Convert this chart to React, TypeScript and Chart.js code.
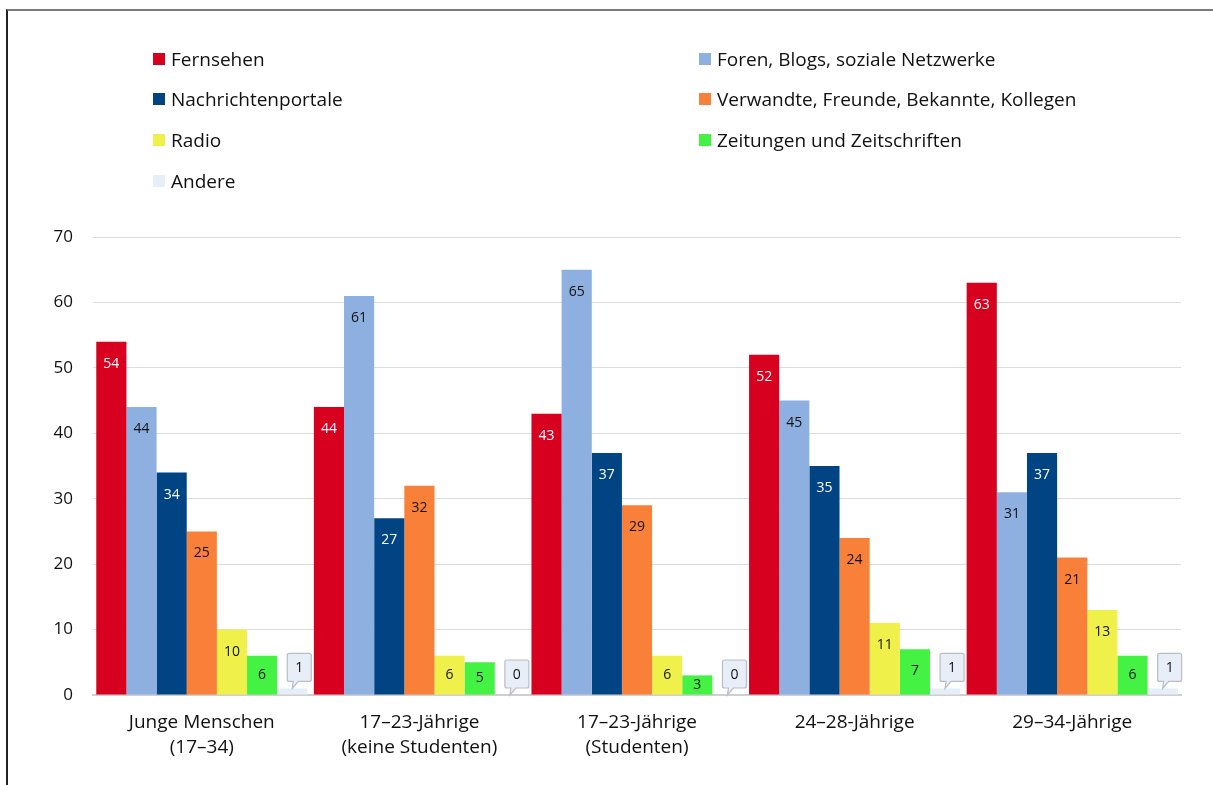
import React, { useEffect, useRef } from "react";
import { Chart, registerables } from "chart.js";

Chart.register(...registerables);

const categories: string[][] = [
  ["Junge Menschen", "(17–34)"],
  ["17–23-Jährige", "(keine Studenten)"],
  ["17–23-Jährige", "(Studenten)"],
  ["24–28-Jährige"],
  ["29–34-Jährige"],
];

const seriesNames = [
  "Fernsehen",
  "Foren, Blogs, soziale Netzwerke",
  "Nachrichtenportale",
  "Verwandte, Freunde, Bekannte, Kollegen",
  "Radio",
  "Zeitungen und Zeitschriften",
  "Andere",
];

const fernsehen = [54, 44, 43, 52, 63];
const foren = [44, 61, 65, 45, 31];
const nachrichten = [34, 27, 37, 35, 37];
const verwandte = [25, 32, 29, 24, 21];
const radio = [10, 6, 6, 11, 13];
const zeitungen = [6, 5, 3, 7, 6];
const andere = [1, 0, 0, 1, 1];

const seriesValues = [fernsehen, foren, nachrichten, verwandte, radio, zeitungen, andere];
const seriesColors = ["#D7001F", "#8DB0E0", "#004483", "#F98039", "#F0F04A", "#44F244", "#E6EEF8"];
const labelColors = ["#ffffff", "#111111", "#ffffff", "#111111", "#111111", "#111111", "#111111"];

const yTicks = [0, 10, 20, 30, 40, 50, 60, 70];

const FONT = "'Open Sans', 'Noto Sans', sans-serif";

const valueLabelPlugin = {
  id: "valueLabels",
  afterDatasetsDraw(chart: any) {
    const ctx = chart.ctx;
    ctx.save();
    ctx.font = `14px ${FONT}`;
    ctx.textAlign = "center";
    ctx.textBaseline = "middle";
    chart.data.datasets.forEach((ds: any, di: number) => {
      const meta = chart.getDatasetMeta(di);
      meta.data.forEach((bar: any, i: number) => {
        const v = ds.data[i];
        const top = bar.y;
        const base = bar.base;
        if (di === seriesNames.length - 1) {
          const cx = bar.x;
          const bw = 24;
          const bh = 28;
          const bx = cx + 7 - bw / 2;
          const byBottom = top - 7;
          const by = byBottom - bh;
          ctx.beginPath();
          ctx.moveTo(bx + 2, by);
          ctx.lineTo(bx + bw - 2, by);
          ctx.quadraticCurveTo(bx + bw, by, bx + bw, by + 2);
          ctx.lineTo(bx + bw, byBottom - 2);
          ctx.quadraticCurveTo(bx + bw, byBottom, bx + bw - 2, byBottom);
          ctx.lineTo(cx + 6, byBottom);
          ctx.lineTo(cx, top);
          ctx.lineTo(cx + 1, byBottom);
          ctx.lineTo(bx + 2, byBottom);
          ctx.quadraticCurveTo(bx, byBottom, bx, byBottom - 2);
          ctx.lineTo(bx, by + 2);
          ctx.quadraticCurveTo(bx, by, bx + 2, by);
          ctx.closePath();
          ctx.fillStyle = "#E8EEF8";
          ctx.fill();
          ctx.strokeStyle = "#B9BDC4";
          ctx.lineWidth = 1.2;
          ctx.stroke();
          ctx.fillStyle = "#111111";
          ctx.fillText(String(v), bx + bw / 2, by + bh / 2 + 1);
        } else {
          const y = Math.min(top + 22, (top + base) / 2);
          ctx.fillStyle = labelColors[di];
          ctx.fillText(String(v), bar.x, y);
        }
      });
    });
    ctx.restore();
  },
};

const legendPlugin = {
  id: "gridLegend",
  afterDraw(chart: any) {
    const ctx = chart.ctx;
    const colX = [153, 699];
    const rowY = [59, 99, 140, 181];
    ctx.save();
    ctx.font = `19px ${FONT}`;
    ctx.textBaseline = "middle";
    ctx.textAlign = "left";
    seriesNames.forEach((name, i) => {
      const x = colX[i % 2];
      const y = rowY[Math.floor(i / 2)];
      ctx.fillStyle = seriesColors[i];
      ctx.fillRect(x, y - 6, 12, 12);
      ctx.fillStyle = "#111111";
      ctx.fillText(name, x + 18, y + 1.5);
    });
    ctx.restore();
  },
};

export default function App() {
  const canvasRef = useRef<HTMLCanvasElement | null>(null);

  useEffect(() => {
    if (!canvasRef.current) return;
    const chart = new Chart(canvasRef.current, {
      type: "bar",
      data: {
        labels: categories,
        datasets: seriesNames.map((name, i) => ({
          label: name,
          data: seriesValues[i],
          backgroundColor: seriesColors[i],
          borderWidth: 0,
          barPercentage: 1.0,
          categoryPercentage: 0.97,
        })),
      },
      options: {
        animation: false,
        responsive: false,
        devicePixelRatio: 1,
        layout: { padding: { left: 0, right: 32, top: 237, bottom: 0 } },
        plugins: {
          legend: { display: false },
          tooltip: { enabled: false },
        },
        scales: {
          x: {
            grid: { display: false, drawTicks: false },
            border: { display: true, color: "#CFCFCF", width: 2 },
            ticks: {
              color: "#111111",
              font: { family: FONT, size: 19, lineHeight: 1.27 },
              padding: 16,
              maxRotation: 0,
              autoSkip: false,
            },
            afterFit(scale: any) {
              scale.height = 90;
            },
          },
          y: {
            min: 0,
            max: 70,
            afterBuildTicks(scale: any) {
              scale.ticks = yTicks.map((v) => ({ value: v }));
            },
            grid: { color: "#DCDCDC", lineWidth: 1, drawTicks: false },
            border: { display: false },
            ticks: {
              color: "#111111",
              font: { family: FONT, size: 17 },
              padding: 20,
            },
            afterFit(scale: any) {
              scale.width = 93;
            },
          },
        },
      },
      plugins: [valueLabelPlugin, legendPlugin],
    });
    return () => chart.destroy();
  }, []);

  return (
    <div>
      <div
        style={{
          position: "fixed",
          left: 6,
          top: 9,
          right: 0,
          bottom: 0,
          borderTop: "2px solid #7A7A7A",
          borderLeft: "2px solid #222222",
        }}
      />
      <canvas
        ref={canvasRef}
        width={1213}
        height={785}
        style={{ position: "fixed", left: 0, top: 0, width: 1213, height: 785 }}
      />
    </div>
  );
}
